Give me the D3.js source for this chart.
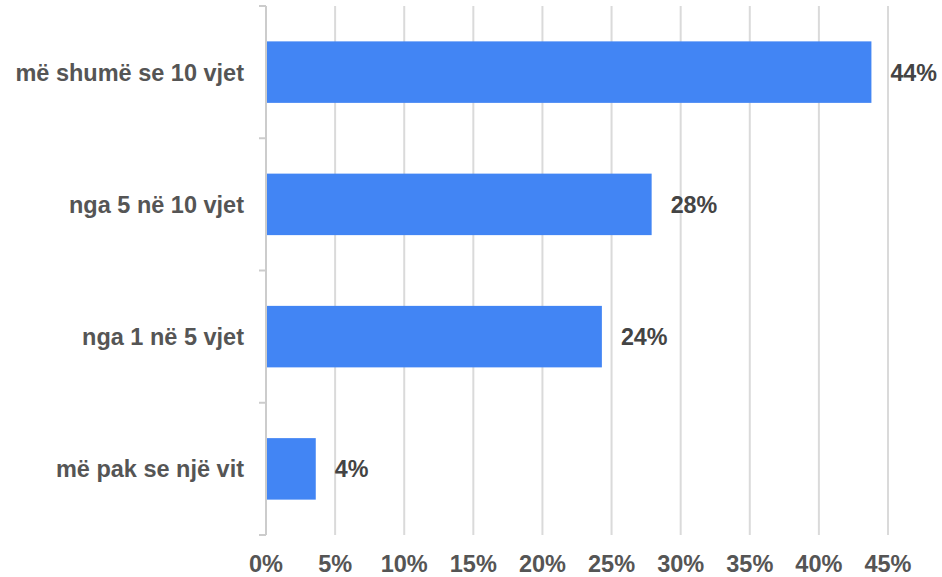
<!DOCTYPE html>
<html>
<head>
    <title>Bar Chart</title>
    <script src="https://cdnjs.cloudflare.com/ajax/libs/d3/7.8.5/d3.min.js"></script>
    <style>
        body { margin: 0; background: #fff; }
        #chart text { font-family: "Liberation Sans", Arial, sans-serif; font-weight: bold; }
        .cat-label { font-size: 23.5px; fill: #555; }
        .tick-label { font-size: 23.5px; fill: #555; }
        .value-label { font-size: 23.3px; fill: #444; }
        .grid { stroke: #dadada; stroke-width: 2px; }
        .axis-line { stroke: #ccc; stroke-width: 2px; }
    </style>
</head>
<body>
    <div id="chart"></div>
    <script>
const categories = ['më shumë se 10 vjet', 'nga 5 në 10 vjet', 'nga 1 në 5 vjet', 'më pak se një vit'];
const values = [43.8, 27.9, 24.3, 3.6];
const valueLabels = ['44%', '28%', '24%', '4%'];
const xTicks = [0, 5, 10, 15, 20, 25, 30, 35, 40, 45];

    const width = 942;
    const height = 577;
    const margin = { top: 6, right: 54, bottom: 42, left: 266 };

    const svg = d3.select('#chart')
        .append('svg')
        .attr('width', width)
        .attr('height', height);

    const x = d3.scaleLinear()
        .domain([0, 45])
        .range([margin.left, width - margin.right]);

    const y = d3.scaleBand()
        .domain(categories)
        .range([margin.top, height - margin.bottom])
        .paddingInner(0.535)
        .paddingOuter(0.2675);

    // Gridlines
    svg.append('g')
        .selectAll('line')
        .data(xTicks.slice(1))
        .join('line')
        .attr('class', 'grid')
        .attr('x1', d => x(d))
        .attr('x2', d => x(d))
        .attr('y1', margin.top)
        .attr('y2', height - margin.bottom);

    // Left axis line with band boundary ticks
    const bounds = d3.range(categories.length + 1)
        .map(i => margin.top + i * (height - margin.bottom - margin.top) / categories.length);

    svg.append('line')
        .attr('class', 'axis-line')
        .attr('x1', x(0)).attr('x2', x(0))
        .attr('y1', margin.top).attr('y2', height - margin.bottom);

    svg.append('g')
        .selectAll('line')
        .data(bounds)
        .join('line')
        .attr('class', 'axis-line')
        .attr('x1', x(0) - 7)
        .attr('x2', x(0))
        .attr('y1', d => d)
        .attr('y2', d => d);

    // Bars
    const rows = categories.map((c, i) => ({ cat: c, value: values[i], label: valueLabels[i] }));

    svg.append('g')
        .selectAll('rect')
        .data(rows)
        .join('rect')
        .attr('x', x(0) + 1)
        .attr('y', d => y(d.cat))
        .attr('width', d => x(d.value) - x(0) - 1)
        .attr('height', y.bandwidth())
        .attr('fill', '#4285f4');

    // Value labels
    svg.append('g')
        .selectAll('text')
        .data(rows)
        .join('text')
        .attr('class', 'value-label')
        .attr('x', d => x(d.value) + 19)
        .attr('y', d => y(d.cat) + y.bandwidth() / 2)
        .attr('dy', '0.36em')
        .text(d => d.label);

    // Category labels
    svg.append('g')
        .selectAll('text')
        .data(categories)
        .join('text')
        .attr('class', 'cat-label')
        .attr('x', x(0) - 22)
        .attr('y', d => y(d) + y.bandwidth() / 2)
        .attr('dy', '0.36em')
        .attr('text-anchor', 'end')
        .text(d => d);

    // X tick labels
    svg.append('g')
        .selectAll('text')
        .data(xTicks)
        .join('text')
        .attr('class', 'tick-label')
        .attr('x', d => x(d))
        .attr('y', 572)
        .attr('text-anchor', 'middle')
        .text(d => d + '%');
    </script>
</body>
</html>
